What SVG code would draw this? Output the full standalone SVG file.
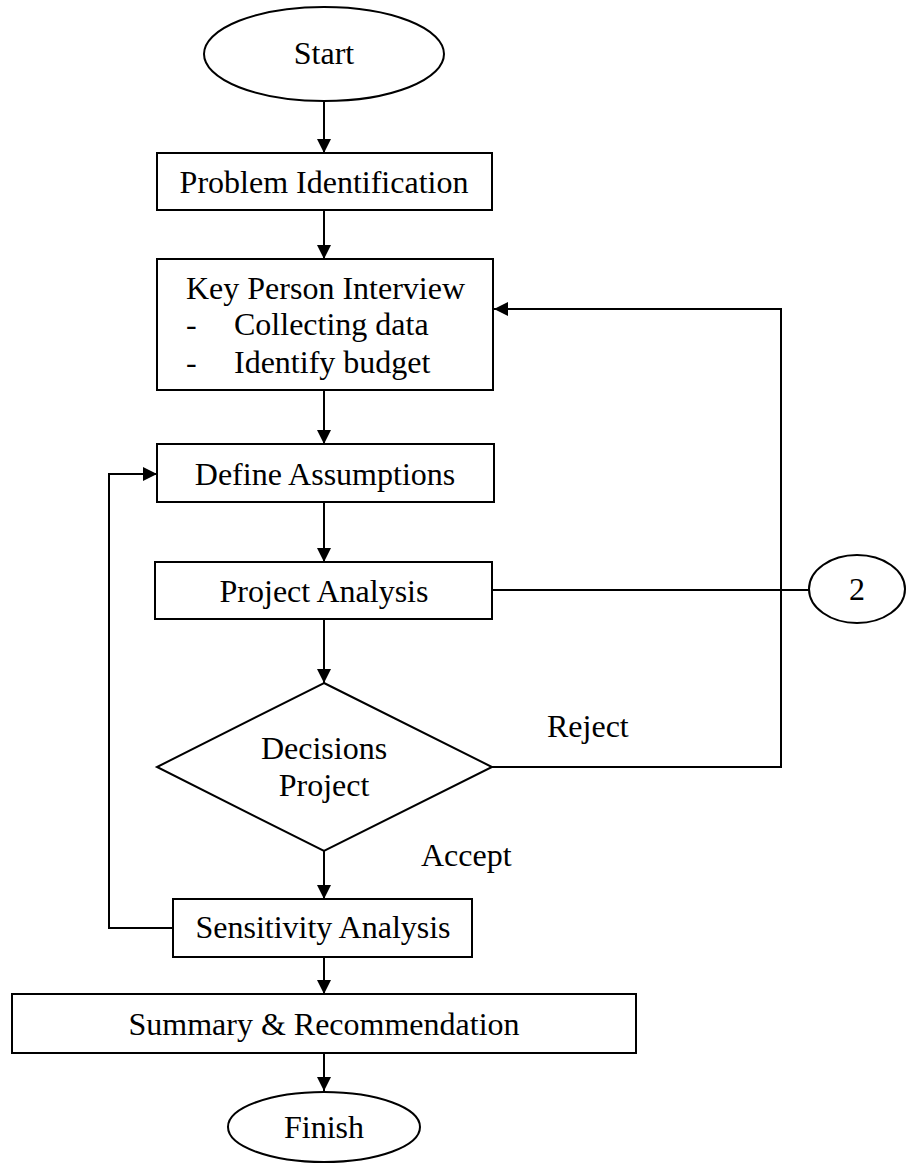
<svg xmlns="http://www.w3.org/2000/svg" width="909" height="1164" viewBox="0 0 909 1164">
<style>
.s{fill:#fff;stroke:#000;stroke-width:2}
.c{fill:none;stroke:#000;stroke-width:2}
text{font-family:"Liberation Serif","Times New Roman",serif;font-size:32px;fill:#000}
.m{text-anchor:middle}
</style>
<defs>
<marker id="ah" markerUnits="userSpaceOnUse" markerWidth="14" markerHeight="14" refX="14" refY="7" orient="auto">
<path d="M0,0 L14,7 L0,14 z" fill="#000"/>
</marker>
</defs>
<rect width="909" height="1164" fill="#fff"/>
<g id="connectors">
<line class="c" x1="324" y1="101" x2="324" y2="153" marker-end="url(#ah)"/>
<line class="c" x1="324" y1="210" x2="324" y2="259" marker-end="url(#ah)"/>
<line class="c" x1="324" y1="390" x2="324" y2="444" marker-end="url(#ah)"/>
<line class="c" x1="324" y1="502" x2="324" y2="562" marker-end="url(#ah)"/>
<line class="c" x1="324" y1="619" x2="324" y2="683" marker-end="url(#ah)"/>
<line class="c" x1="324" y1="851" x2="324" y2="899" marker-end="url(#ah)"/>
<line class="c" x1="324" y1="957" x2="324" y2="994" marker-end="url(#ah)"/>
<line class="c" x1="324" y1="1053" x2="324" y2="1091" marker-end="url(#ah)"/>
<line class="c" x1="492" y1="590" x2="809" y2="590"/>
<polyline class="c" points="492,767 781,767 781,309 494,309" marker-end="url(#ah)"/>
<polyline class="c" points="173,928 109,928 109,474 157,474" marker-end="url(#ah)"/>
<text x="547" y="737">Reject</text>
<text x="421" y="866">Accept</text>
</g>
<g id="start">
<ellipse class="s" cx="324" cy="54" rx="120" ry="47"/>
<text class="m" x="324" y="64">Start</text>
</g>
<g id="problem">
<rect class="s" x="157" y="153" width="335" height="57"/>
<text class="m" x="324" y="193">Problem Identification</text>
</g>
<g id="interview">
<rect class="s" x="157" y="259" width="336" height="131"/>
<text x="186" y="299">Key Person Interview</text>
<text x="186" y="335">-</text>
<text x="234" y="335">Collecting data</text>
<text x="186" y="373">-</text>
<text x="234" y="373">Identify budget</text>
</g>
<g id="assumptions">
<rect class="s" x="157" y="444" width="337" height="58"/>
<text class="m" x="325" y="485">Define Assumptions</text>
</g>
<g id="analysis">
<rect class="s" x="155" y="562" width="337" height="57"/>
<text class="m" x="324" y="602">Project Analysis</text>
</g>
<g id="connector2">
<ellipse class="s" cx="857" cy="589" rx="48" ry="34"/>
<text class="m" x="857" y="600">2</text>
</g>
<g id="decision">
<polygon class="s" points="324,683 492,767 324,851 157,767"/>
<text class="m" x="324" y="759">Decisions</text>
<text class="m" x="324" y="796">Project</text>
</g>
<g id="sensitivity">
<rect class="s" x="173" y="899" width="299" height="58"/>
<text class="m" x="323" y="938">Sensitivity Analysis</text>
</g>
<g id="summary">
<rect class="s" x="12" y="994" width="624" height="59"/>
<text class="m" x="324" y="1035">Summary &amp; Recommendation</text>
</g>
<g id="finish">
<ellipse class="s" cx="324" cy="1127" rx="96" ry="35"/>
<text class="m" x="324" y="1138">Finish</text>
</g>
</svg>
